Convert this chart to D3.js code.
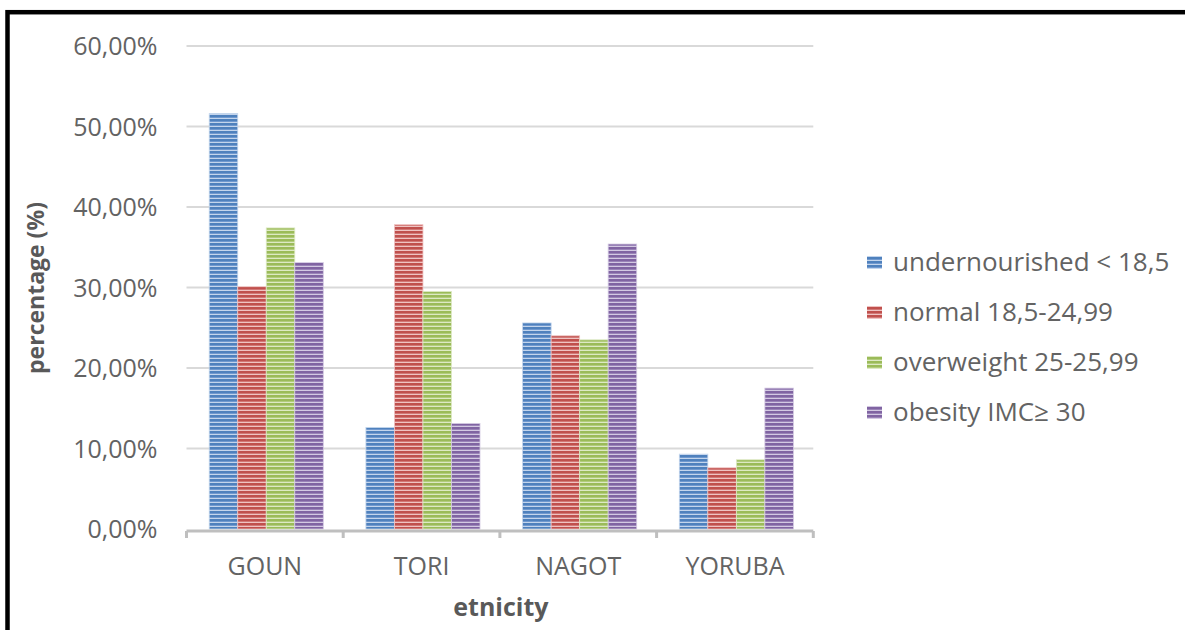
<!DOCTYPE html>
<html>
<head>
<meta charset="utf-8">
<script src="https://cdn.jsdelivr.net/npm/d3@7"></script>
<style>
  html, body { margin: 0; padding: 0; background: #fff; }
  svg { display: block; font-family: "Open Sans", "DejaVu Sans", sans-serif; }
</style>
</head>
<body>
<svg id="chart" width="1185" height="630"></svg>
<script>
// Ethnic groups on the x axis
const categories = ["GOUN", "TORI", "NAGOT", "YORUBA"];

// BMI class names shown in the legend
const seriesNames = [
  "undernourished < 18,5",
  "normal 18,5-24,99",
  "overweight 25-25,99",
  "obesity IMC\u2265 30"
];

// Percentage of each BMI class per ethnic group (same order as categories)
const undernourished = [51.6, 12.6, 25.6, 9.3];
const normal = [30.1, 37.8, 24.0, 7.6];
const overweight = [37.4, 29.5, 23.5, 8.6];
const obesity = [33.1, 13.1, 35.4, 17.5];

// Y axis tick values (percent)
const yTicks = [0, 10, 20, 30, 40, 50, 60];

const seriesValues = [undernourished, normal, overweight, obesity];
const colors = ["#4f81bd", "#c0504d", "#9bbb59", "#8064a2"];
const midColors = ["#7099cf", "#d27876", "#b2cc7c", "#9a83b8"];
const lightColors = ["#c3d5ec", "#efc3c2", "#dde9c4", "#d3c9e2"];

const svg = d3.select("#chart");
const plot = { left: 186.5, right: 813.3, top: 46, bottom: 529 };

const x = d3.scaleBand().domain(categories).range([plot.left, plot.right]).padding(0);
const xs = d3.scaleBand().domain(d3.range(seriesNames.length))
  .range([x.bandwidth() * 0.145, x.bandwidth() * 0.873]).padding(0);
const y = d3.scaleLinear().domain([0, 60]).range([plot.bottom, plot.top]);

// Striped fills for the bars
const defs = svg.append("defs");
colors.forEach((c, i) => {
  const p = defs.append("pattern")
    .attr("id", "stripe" + i)
    .attr("patternUnits", "userSpaceOnUse")
    .attr("width", 4).attr("height", 4);
  p.append("rect").attr("width", 4).attr("height", 4).attr("fill", c);
  p.append("rect").attr("y", 1).attr("width", 4).attr("height", 1).attr("fill", midColors[i]);
  p.append("rect").attr("y", 2).attr("width", 4).attr("height", 1).attr("fill", lightColors[i]);
});

// Outer chart frame
svg.append("rect")
  .attr("x", 7.5).attr("y", 12.2)
  .attr("width", 1300).attr("height", 700)
  .attr("fill", "none").attr("stroke", "#000").attr("stroke-width", 4.5);

// Horizontal gridlines
svg.append("g")
  .selectAll("line")
  .data(yTicks.filter(t => t > 0))
  .join("line")
  .attr("x1", plot.left).attr("x2", plot.right)
  .attr("y1", d => y(d)).attr("y2", d => y(d))
  .attr("stroke", "#d9d9d9").attr("stroke-width", 2);

// Y axis labels
const yAxis = svg.append("g")
  .attr("transform", `translate(${plot.left - 29},0)`)
  .call(d3.axisLeft(y).tickValues(yTicks).tickSize(0)
    .tickFormat(d => d3.format(".2f")(d).replace(".", ",") + "%"));
yAxis.select(".domain").remove();
yAxis.selectAll("text")
  .attr("font-family", "'Open Sans', sans-serif")
  .attr("font-size", 25).attr("fill", "#636363").attr("x", 0).attr("dy", "0.35em");

// Bars
const groups = svg.append("g")
  .selectAll("g")
  .data(seriesValues)
  .join("g")
  .attr("fill", (d, i) => `url(#stripe${i})`);

groups.selectAll("rect")
  .data((vals, si) => vals.map((v, ci) => ({ v, ci, si })))
  .join("rect")
  .attr("x", d => x(categories[d.ci]) + xs(d.si))
  .attr("width", xs.bandwidth())
  .attr("y", d => y(d.v))
  .attr("height", d => y(0) - y(d.v))
  .attr("stroke", d => lightColors[d.si])
  .attr("stroke-width", 0.8);

// X axis baseline and category boundary ticks
const xAxisY = plot.bottom + 2;
svg.append("line")
  .attr("x1", plot.left).attr("x2", plot.right)
  .attr("y1", xAxisY).attr("y2", xAxisY)
  .attr("stroke", "#bfbfbf").attr("stroke-width", 3);
const boundaries = categories.map(c => x(c)).concat([x(categories[categories.length - 1]) + x.bandwidth()]);
svg.append("g")
  .selectAll("line")
  .data(boundaries)
  .join("line")
  .attr("x1", d => d).attr("x2", d => d)
  .attr("y1", xAxisY).attr("y2", xAxisY + 7)
  .attr("stroke", "#bfbfbf").attr("stroke-width", 3);

// Category labels
const xAxis = svg.append("g")
  .attr("transform", `translate(0,${xAxisY})`)
  .call(d3.axisBottom(x).tickSize(0).tickPadding(0));
xAxis.select(".domain").remove();
xAxis.selectAll("text")
  .attr("font-family", "'Open Sans', sans-serif")
  .attr("font-size", 25).attr("fill", "#636363")
  .attr("y", 44).attr("dy", 0);

// Axis titles
svg.append("text")
  .attr("x", (plot.left + plot.right) / 2 + 1).attr("y", 616)
  .attr("text-anchor", "middle")
  .attr("font-size", 25).attr("font-weight", "bold").attr("fill", "#595959")
  .text("etnicity");

svg.append("text")
  .attr("transform", "translate(44,288) rotate(-90)")
  .attr("text-anchor", "middle")
  .attr("font-size", 23).attr("font-weight", "bold").attr("fill", "#595959")
  .text("percentage (%)");

// Legend
const legend = svg.append("g")
  .selectAll("g")
  .data(seriesNames)
  .join("g")
  .attr("transform", (d, i) => `translate(867,${262 + i * 50})`);
legend.append("rect")
  .attr("x", 0).attr("y", -6).attr("width", 15).attr("height", 13)
  .attr("fill", (d, i) => `url(#stripe${i})`);
legend.append("text")
  .attr("x", 26).attr("y", 0).attr("dy", "0.35em")
  .attr("font-size", 26).attr("fill", "#636363")
  .text(d => d);
</script>
</body>
</html>
